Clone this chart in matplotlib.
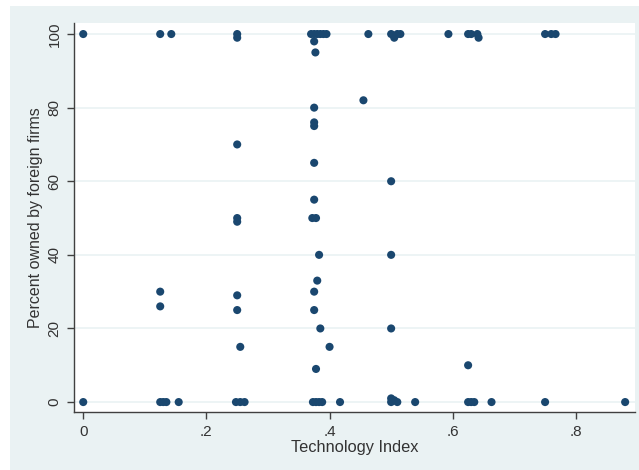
import matplotlib
matplotlib.use("Agg")
import matplotlib.pyplot as plt
from matplotlib.patches import Rectangle

# Data
tech_index = [
    0.0, 0.125, 0.143, 0.25, 0.25,
    0.37, 0.375, 0.38, 0.385, 0.39, 0.395, 0.375, 0.377,
    0.463, 0.5, 0.505, 0.51, 0.515, 0.593,
    0.625, 0.63, 0.64, 0.642, 0.75, 0.76, 0.767,
    0.455, 0.375, 0.375, 0.375, 0.25, 0.375, 0.5, 0.375, 0.372, 0.378,
    0.25, 0.25, 0.383, 0.5, 0.38, 0.125, 0.375, 0.25, 0.125, 0.25,
    0.375, 0.385, 0.5, 0.255, 0.4, 0.625, 0.378,
    0.0, 0.125, 0.13, 0.135, 0.155, 0.248, 0.255, 0.262, 0.373, 0.378,
    0.383, 0.388, 0.417, 0.5, 0.5, 0.505, 0.51, 0.539, 0.625, 0.63,
    0.635, 0.663, 0.75, 0.88,
]
pct_foreign = [
    100, 100, 100, 100, 99,
    100, 100, 100, 100, 100, 100, 98, 95,
    100, 100, 99, 100, 100, 100,
    100, 100, 100, 99, 100, 100, 100,
    82, 80, 76, 75, 70, 65, 60, 55, 50, 50,
    50, 49, 40, 40, 33, 30, 30, 29, 26, 25,
    25, 20, 20, 15, 15, 10, 9,
    0, 0, 0, 0, 0, 0, 0, 0, 0, 0,
    0, 0, 0, 0, 1, 0.5, 0, 0, 0, 0,
    0, 0, 0, 0,
]
x_ticks = [0, 0.2, 0.4, 0.6, 0.8]
x_tick_labels = ["0", ".2", ".4", ".6", ".8"]
y_ticks = [0, 20, 40, 60, 80, 100]
y_tick_labels = ["0", "20", "40", "60", "80", "100"]

plt.rcParams['font.family'] = ['Liberation Sans', 'DejaVu Sans']

bg = "#eaf2f3"
navy = "#1a476f"
txt = "#333333"

fig = plt.figure(figsize=(6.39, 4.70), dpi=100)
fig.patch.set_facecolor("white")
fig.patches.append(Rectangle((10 / 639, 0), 1, (470 - 6) / 470,
                             transform=fig.transFigure, facecolor=bg,
                             edgecolor="none", zorder=0))

ax = fig.add_axes([74 / 639, (470 - 412) / 470, (635 - 74) / 639, (412 - 23) / 470])
ax.set_facecolor("white")
ax.set_zorder(1)

ax.scatter(tech_index, pct_foreign, s=34, color=navy, edgecolors="none", zorder=3)

ax.set_xlim(-0.015, 0.896)
ax.set_ylim(-2.7, 103)

ax.set_xticks(x_ticks)
ax.set_xticklabels(x_tick_labels)
ax.set_yticks(y_ticks)
ax.set_yticklabels(y_tick_labels, rotation=90, va="center")

ax.yaxis.grid(True, color=bg, linewidth=1.2, zorder=0)
ax.xaxis.grid(False)
ax.set_axisbelow(True)

for s in ["top", "right"]:
    ax.spines[s].set_visible(False)
for s in ["left", "bottom"]:
    ax.spines[s].set_color("#404040")
    ax.spines[s].set_linewidth(1.0)

ax.tick_params(axis="both", colors="#404040", labelcolor=txt,
               labelsize=11, length=5, width=1.0, pad=4)

ax.set_xlabel("Technology Index", fontsize=11.8, color=txt, labelpad=1)
ax.set_ylabel("Percent owned by foreign firms", fontsize=11.5, color=txt, labelpad=3)

fig.savefig("out.png", dpi=100, facecolor=fig.get_facecolor())
